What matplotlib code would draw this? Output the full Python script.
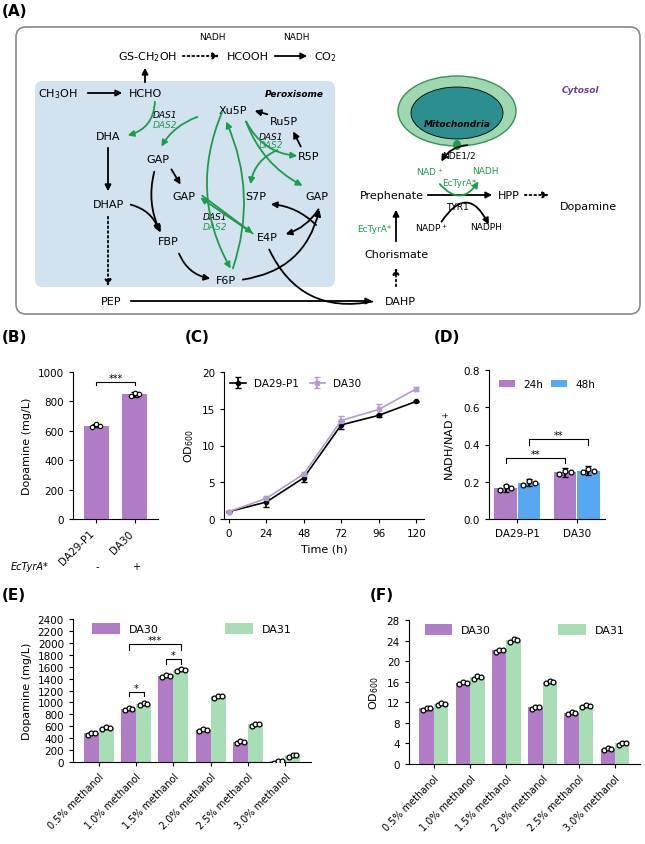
import numpy as np
import matplotlib.pyplot as plt
from matplotlib.patches import FancyBboxPatch, Ellipse

PURPLE = '#b07cc6'
GREEN = '#a8ddb5'
BLUE = '#57a8f0'
DGREEN = '#1f9a4e'

# data
strains_b = ['DA29-P1', 'DA30']
dopamine_b = [635, 848]
dopamine_b_err = [12, 15]

time_c = [0, 24, 48, 72, 96, 120]
od_da29 = [1.0, 2.3, 5.6, 12.8, 14.1, 16.0]
od_da29_err = [0.1, 0.6, 0.5, 0.6, 0.2, 0.1]
od_da30 = [1.0, 2.8, 6.1, 13.4, 14.9, 17.7]
od_da30_err = [0.1, 0.3, 0.3, 0.6, 0.8, 0.3]

ratio_24h = [0.165, 0.25]
ratio_48h = [0.195, 0.26]
ratio_err = [0.02, 0.025]

methanol = ['0.5% methanol', '1.0% methanol', '1.5% methanol',
            '2.0% methanol', '2.5% methanol', '3.0% methanol']
dopa_da30 = [480, 890, 1450, 545, 340, 10]
dopa_da31 = [575, 975, 1545, 1100, 630, 110]
od_f_da30 = [10.8, 15.8, 22.1, 11.0, 10.0, 3.0]
od_f_da31 = [11.7, 16.9, 24.1, 16.0, 11.3, 4.0]

W, H = 645, 845
fig = plt.figure(figsize=(6.45, 8.45), dpi=100)
plt.rcParams['font.family'] = 'DejaVu Sans'


def ax_px(l, t, r, b):
    return fig.add_axes([l / W, 1 - b / H, (r - l) / W, (b - t) / H])


# ---------- panel A (diagram in pixel coords)
axa = fig.add_axes([0, 0, 1, 1])
axa.set_xlim(0, W)
axa.set_ylim(H, 0)
axa.axis('off')
axa.add_patch(FancyBboxPatch((16, 28), 624, 287, boxstyle='round,pad=0,rounding_size=10',
                             fc='white', ec='#888888', lw=1.2))
axa.add_patch(FancyBboxPatch((35, 82), 300, 206, boxstyle='round,pad=0,rounding_size=8',
                             fc='#d3e2ef', ec='none'))
axa.add_patch(Ellipse((457, 112), 118, 70, fc='#9fd8b0', ec='#3a8f5a'))
axa.add_patch(Ellipse((457, 114), 92, 52, fc='#2b8f8f', ec='black', lw=0.6))
axa.text(457, 127, 'Mitochondria', ha='center', fontsize=6.5, style='italic', weight='bold')
axa.add_patch(Ellipse((457, 146), 8, 10, fc=DGREEN, ec='none'))

labels = [('GS-CH$_2$OH', 148, 57), ('HCOOH', 248, 57), ('CO$_2$', 325, 57),
          ('CH$_3$OH', 58, 94), ('HCHO', 145, 94), ('Xu5P', 233, 111), ('Ru5P', 284, 122),
          ('DHA', 108, 137), ('R5P', 309, 157), ('GAP', 158, 160), ('GAP', 184, 197),
          ('S7P', 256, 197), ('GAP', 317, 197), ('DHAP', 108, 205), ('E4P', 267, 238),
          ('FBP', 168, 242), ('F6P', 226, 281), ('PEP', 111, 302), ('DAHP', 400, 302),
          ('Prephenate', 392, 196), ('HPP', 509, 196), ('Chorismate', 396, 255)]
for s, x, y in labels:
    axa.text(x, y, s, ha='center', va='center', fontsize=8)
for s, x, y in [('NADH', 212, 38), ('NADH', 296, 38), ('NDE1/2', 459, 156), ('TYR1', 457, 207),
                ('NADP$^+$', 432, 228), ('NADPH', 486, 228)]:
    axa.text(x, y, s, ha='center', va='center', fontsize=6.5)
axa.text(588, 207, 'Dopamine', ha='center', va='center', fontsize=8)
for s, x, y in [('NAD$^+$', 430, 172), ('NADH', 485, 172), ('EcTyrA*', 459, 184), ('EcTyrA*', 374, 230)]:
    axa.text(x, y, s, ha='center', va='center', fontsize=6.5, color=DGREEN)
for x, y in [(165, 116), (271, 137), (215, 218)]:
    axa.text(x, y, 'DAS1', ha='center', va='center', fontsize=6.5, style='italic')
    axa.text(x, y + 9, 'DAS2', ha='center', va='center', fontsize=6.5, style='italic', color=DGREEN)
axa.text(294, 97, 'Peroxisome', ha='center', fontsize=6.5, style='italic', weight='bold')
axa.text(580, 93, 'Cytosol', ha='center', fontsize=6.5, style='italic', weight='bold', color='#6a3d9a')

ap = dict(arrowstyle='-|>', color='black', lw=1.3, mutation_scale=9)
gp = dict(arrowstyle='-|>', color=DGREEN, lw=1.3, mutation_scale=9)
def arr(p0, p1, props=ap, rad=0.0, ls='-'):
    axa.annotate('', xy=p1, xytext=p0,
                 arrowprops=dict(props, connectionstyle=f'arc3,rad={rad}', linestyle=ls))

arr((85, 94), (125, 94))
arr((145, 86), (145, 66))
arr((180, 57), (222, 57), ls=':')
arr((272, 57), (310, 57))
arr((108, 146), (108, 195))
arr((108, 215), (108, 290), ls=':')
arr((128, 302), (375, 302))
arr((270, 116), (252, 111))
arr((302, 150), (292, 130))
arr((155, 170), (162, 236), rad=0.2)
arr((128, 205), (160, 235), rad=-0.3)
arr((170, 168), (182, 188))
arr((178, 252), (213, 280), rad=0.3)
arr((240, 281), (320, 208), rad=0.35)
arr((320, 208), (283, 236), rad=-0.2)
arr((318, 228), (268, 205), rad=0.2)
axa.annotate('', xy=(375, 302), xytext=(268, 248),
             arrowprops=dict(arrowstyle='-', color='black', lw=1.3,
                             connectionstyle='arc3,rad=0.4'))
arr((396, 245), (396, 208))
arr((396, 290), (396, 266), ls=':')
arr((425, 196), (495, 196))
arr((522, 196), (552, 196), ls=':')
arr((470, 146), (440, 165), rad=0.3)
arr((440, 225), (490, 228), rad=-0.9)
arr((155, 100), (125, 137), gp, rad=-0.4)
arr((200, 117), (160, 150), gp, rad=0.2)
arr((223, 111), (232, 272), gp, rad=0.25)
arr((232, 272), (225, 120), gp, rad=0.2)
arr((245, 120), (300, 157), gp, rad=0.3)
arr((245, 120), (305, 188), gp, rad=0.2)
arr((280, 150), (250, 188), gp, rad=0.3)
arr((200, 195), (255, 236), gp, rad=0.0)
arr((255, 236), (198, 197), gp, rad=0.0)
arr((438, 183), (480, 180), gp, rad=0.7)

# ---------- panel letters
for s, x, y in [('(A)', 2, 12), ('(B)', 2, 338), ('(C)', 185, 338), ('(D)', 434, 338),
                ('(E)', 2, 595), ('(F)', 370, 595)]:
    fig.text(x / W, 1 - y / H, s, fontsize=11, weight='bold', va='center')

def style(ax):
    for sp in ['top', 'right']:
        ax.spines[sp].set_visible(False)
    ax.tick_params(labelsize=7.5, length=3)

# ---------- B
axb = ax_px(73, 373, 158, 520)
axb.bar([0, 1], dopamine_b, yerr=dopamine_b_err, color=PURPLE, width=0.65, capsize=3)
axb.set_xticks([0, 1])
axb.set_xticklabels(strains_b, rotation=45, ha='right', fontsize=7.5)
axb.set_ylim(0, 1000)
axb.set_yticks(range(0, 1001, 200))
axb.set_ylabel('Dopamine (mg/L)', fontsize=8)
axb.set_xlim(-0.6, 1.6)
axb.plot([0, 0, 1, 1], [910, 935, 935, 910], color='black', lw=0.8)
axb.text(0.5, 940, '***', ha='center', fontsize=7)
style(axb)
fig.text(49 / W, 1 - 567 / H, 'EcTyrA*', fontsize=7, style='italic', ha='right', va='center')
fig.text(97 / W, 1 - 567 / H, '-', fontsize=7, ha='center', va='center')
fig.text(136 / W, 1 - 567 / H, '+', fontsize=7, ha='center', va='center')

# ---------- C
axc = ax_px(224, 373, 424, 520)
axc.errorbar(time_c, od_da29, yerr=od_da29_err, color='black', marker='o', ms=3,
             capsize=2, lw=1.2, label='DA29-P1')
axc.errorbar(time_c, od_da30, yerr=od_da30_err, color='#b79bcc', marker='s', ms=3,
             capsize=2, lw=1.2, label='DA30')
axc.set_xticks(time_c)
axc.set_xlim(-3, 125)
axc.set_ylim(0, 20)
axc.set_yticks([0, 5, 10, 15, 20])
axc.set_xlabel('Time (h)', fontsize=8)
axc.set_ylabel('OD$_{600}$', fontsize=8)
axc.legend(loc='upper left', ncol=2, frameon=False, fontsize=7.5, handlelength=1.5,
           columnspacing=1, borderaxespad=0.2)
style(axc)

# ---------- D
axd = ax_px(489, 371, 605, 520)
xd = np.arange(2)
axd.bar(xd - 0.2, ratio_24h, 0.38, yerr=ratio_err, capsize=2, color=PURPLE, label='24h')
axd.bar(xd + 0.2, ratio_48h, 0.38, yerr=ratio_err, capsize=2, color=BLUE, label='48h')
axd.set_xticks(xd)
axd.set_xticklabels(strains_b)
axd.set_ylim(0, 0.8)
axd.set_yticks([0, 0.2, 0.4, 0.6, 0.8])
axd.set_ylabel('NADH/NAD$^+$', fontsize=8)
axd.plot([-0.2, -0.2, 0.8, 0.8], [0.30, 0.33, 0.33, 0.30], color='black', lw=0.8)
axd.text(0.3, 0.335, '**', ha='center', fontsize=7)
axd.plot([0.2, 0.2, 1.2, 1.2], [0.40, 0.43, 0.43, 0.40], color='black', lw=0.8)
axd.text(0.7, 0.435, '**', ha='center', fontsize=7)
axd.legend(loc='upper center', ncol=2, frameon=False, fontsize=7.5, handlelength=1.5,
           columnspacing=0.8)
style(axd)

# ---------- E
xe = np.arange(len(methanol))
axe = ax_px(73, 620, 311, 763)
axe.bar(xe - 0.2, dopa_da30, 0.4, color=PURPLE, label='DA30')
axe.bar(xe + 0.2, dopa_da31, 0.4, color=GREEN, label='DA31')
axe.set_xticks(xe)
axe.set_xticklabels(methanol, rotation=45, ha='right', fontsize=7,
                    rotation_mode='anchor')
axe.set_ylim(0, 2400)
axe.set_yticks(range(0, 2401, 200))
axe.tick_params(axis='y', labelsize=7)
axe.set_ylabel('Dopamine (mg/L)', fontsize=8)
axe.plot([0.8, 0.8, 1.2, 1.2], [1100, 1180, 1180, 1100], color='black', lw=0.8)
axe.text(1.0, 1190, '*', ha='center', fontsize=7)
axe.plot([1.8, 1.8, 2.2, 2.2], [1650, 1730, 1730, 1650], color='black', lw=0.8)
axe.text(2.0, 1740, '*', ha='center', fontsize=7)
axe.plot([0.8, 0.8, 2.2, 2.2], [1880, 1980, 1980, 1880], color='black', lw=0.8)
axe.text(1.5, 1990, '***', ha='center', fontsize=7)
axe.legend(loc='upper center', bbox_to_anchor=(0.5, 1.04), ncol=2, frameon=False,
           fontsize=8, columnspacing=6, handlelength=2.5, handleheight=1.1)
style(axe)
axe.tick_params(axis='x', labelsize=7)

# ---------- F
axf = ax_px(409, 621, 640, 765)
axf.bar(xe - 0.2, od_f_da30, 0.4, color=PURPLE, label='DA30')
axf.bar(xe + 0.2, od_f_da31, 0.4, color=GREEN, label='DA31')
axf.set_xticks(xe)
axf.set_xticklabels(methanol, rotation=45, ha='right', fontsize=7,
                    rotation_mode='anchor')
axf.set_ylim(0, 28)
axf.set_yticks(range(0, 29, 4))
axf.set_ylabel('OD$_{600}$', fontsize=8)
axf.legend(loc='upper center', bbox_to_anchor=(0.5, 1.04), ncol=2, frameon=False,
           fontsize=8, columnspacing=6, handlelength=2.5, handleheight=1.1)
style(axf)
axf.tick_params(axis='x', labelsize=7)

# replicate dots on bar tops
for ax, s1, s2, e in [(axe, dopa_da30, dopa_da31, 25), (axf, od_f_da30, od_f_da31, 0.3)]:
    for i in range(len(methanol)):
        for x0, v in [(i - 0.2, s1[i]), (i + 0.2, s2[i])]:
            ax.scatter([x0 - 0.1, x0, x0 + 0.1], [v - e, v + e * 0.5, v], s=12,
                       facecolor='white', edgecolor='black', lw=0.9, zorder=4)
for i in range(2):
    for x0, v in [(i - 0.2, ratio_24h[i]), (i + 0.2, ratio_48h[i])]:
        axd.scatter([x0 - 0.1, x0, x0 + 0.1], [v - 0.01, v + 0.01, v], s=12,
                    facecolor='white', edgecolor='black', lw=0.9, zorder=4)
for i in range(2):
    axb.scatter([i - 0.1, i, i + 0.1], [dopamine_b[i] - 8, dopamine_b[i] + 8, dopamine_b[i]],
                s=10, facecolor='white', edgecolor='black', lw=0.8, zorder=4)

fig.savefig('out.png', dpi=100)
